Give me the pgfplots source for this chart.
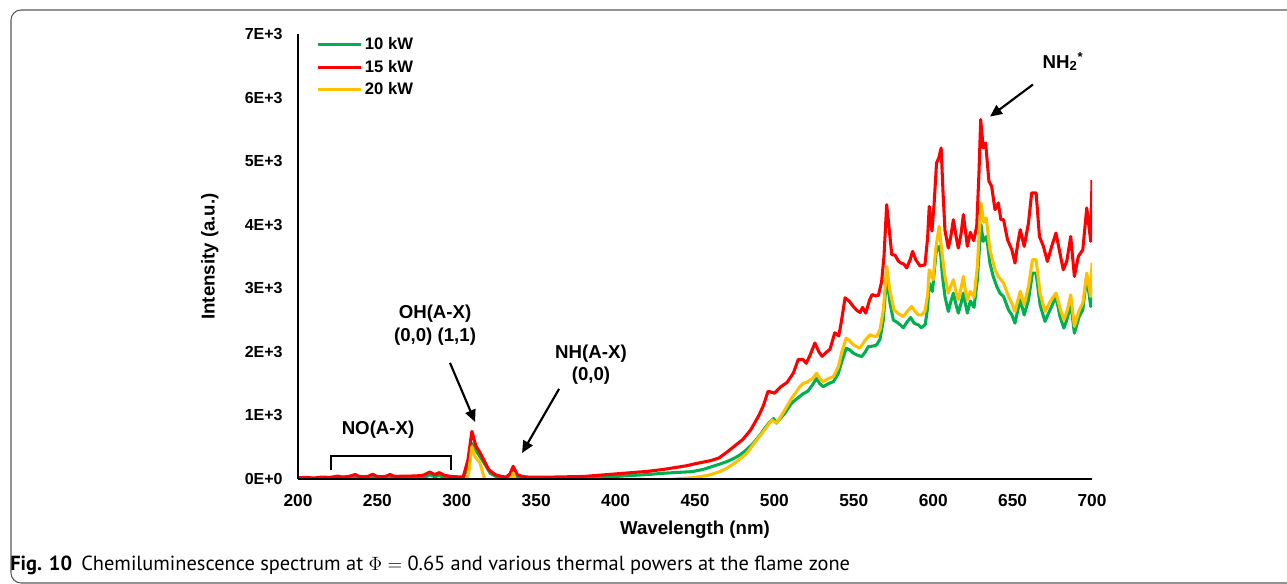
\documentclass[border=0pt]{standalone}
\usepackage[no-math]{fontspec}
\setmainfont{Liberation Sans}
\newfontfamily\capfont{PT Sans}
\usepackage{pgfplots}
\pgfplotsset{compat=1.18}
\usetikzlibrary{arrows.meta}
\definecolor{g10}{HTML}{00B050}
\definecolor{r15}{HTML}{FF0000}
\definecolor{y20}{HTML}{FFC000}

\begin{document}
\begin{tikzpicture}[x=0.75pt,y=0.75pt]
\path[use as bounding box] (0,0) rectangle (1287,584);
% frame of the figure
\draw[black!65, line width=0.8pt] (1300,574) -- (21,574) arc[start angle=90,end angle=180,radius=10]
  -- (11,11) arc[start angle=180,end angle=270,radius=10] -- (1300,1);
\begin{axis}[
  at={(223.5pt,78.75pt)}, anchor=south west,
  width=595.5pt, height=333.75pt, scale only axis,
  xmin=200, xmax=700, ymin=0, ymax=7000,
  axis x line=bottom, axis y line=left,
  axis line style={-, line width=1.6pt, black},
  axis on top,
  major tick length=0pt,
  xtick={200,250,...,700},
  ytick={0,1000,...,7000},
  yticklabels={0E+0,1E+3,2E+3,3E+3,4E+3,5E+3,6E+3,7E+3},
  /pgf/number format/assume math mode=true,
  xticklabel style={font=\fontsize{13}{15}\selectfont\bfseries, yshift=-8pt},
  yticklabel style={font=\fontsize{12}{14}\selectfont\bfseries, xshift=-8pt},
  xlabel={Wavelength (nm)},
  ylabel={Intensity (a.u.)},
  every axis x label/.style={at={(axis description cs:0.5,-0.115)}, anchor=center,
    font=\fontsize{14}{16}\selectfont\bfseries},
  every axis y label/.style={at={(axis description cs:-0.111,0.5)}, anchor=center, rotate=90,
    font=\fontsize{14}{16}\selectfont\bfseries},
  legend style={draw=none, fill=none, at={(axis description cs:0.018,1.005)}, anchor=north west,
    font=\fontsize{12.5}{15}\selectfont\bfseries, row sep=2.5pt},
  legend cell align=left,
  legend image code/.code={\draw[#1, line width=2.3pt] (0pt,0pt) -- (32pt,0pt);},
  every axis plot/.append style={line width=2.3pt, line join=round},
]
% 10 kW
\addplot[g10] coordinates {
(200,10) (210,10) (220,15) (225,20) (236,40) (240,15) (247,45) (250,15) (258,40) (262,15)
(270,20) (280,25) (283,70) (286,35) (289,55) (292,25) (300,15) (304,10) (307,200) (309.5,560)
(312,450) (314.6,350) (317,260) (318.6,194) (321,90) (325,35) (330,20) (333.5,50) (335.5,115)
(338,30) (345,15) (360,15) (380,25) (400,40) (420,70) (430,90) (440,105) (448,115) (455,150)
(460,190) (465,230) (470,273) (475,330) (478.3,378) (482,450) (486.7,562) (491,693) (494,800)
(497.2,902) (499.5,950) (501.4,880) (504,960) (506.6,1034) (510.8,1192) (513.5,1250) (516,1300)
(518,1340) (521,1380) (524,1480) (526.6,1585) (528.5,1500) (530.8,1453) (534,1500) (537.2,1532)
(540.3,1665) (542.5,1850) (545.2,2058) (547.5,2030) (549.7,1980) (552,1950) (555,1926) (557,1990)
(559.2,2084) (562,2090) (564.4,2110) (566.5,2200) (568.6,2504) (570.7,3200) (572.8,2767)
(574.9,2500) (577.5,2460) (579.5,2420) (581.2,2380) (583.5,2470) (585.8,2540) (588,2450)
(590.6,2425) (592.5,2380) (595,2430) (596.5,2700) (597.5,3082) (599.5,2950) (600.8,3300)
(601.8,3554) (603.2,3650) (604.3,3659) (605.8,3200) (607.4,2871) (609.5,2635) (611,2780)
(612.7,2924) (614.3,2750) (615.8,2610) (617.5,2760) (619,2924) (620.3,2750) (621.5,2610)
(623.4,2800) (625.7,2700) (627.8,3134) (629,3600) (630.1,4000) (631.5,3738) (633.6,3816)
(635.7,3397) (637.8,3186) (640,3030) (642,2924) (644.3,2870) (647.4,2661) (649.5,2580)
(651.5,2452) (653.2,2650) (654.8,2819) (657.3,2580) (660,2819) (662.5,3239) (664.8,3239)
(667.3,2740) (670.4,2478) (673.1,2635) (675.2,2750) (677.3,2871) (679.8,2560) (682.3,2373)
(684.5,2530) (686.6,2770) (688.9,2294) (692,2560) (694.2,2661) (696.7,3186) (699.2,2713) (700,3000)
};
\addlegendentry{10 kW}
% 15 kW
\addplot[r15] coordinates {
(200,20) (205,25) (210,15) (215,30) (220,25) (225,45) (228,30) (232,40) (236,70) (239,35)
(244,40) (247,75) (250,35) (255,40) (258,70) (261,40) (266,45) (270,45) (275,50) (279,60)
(283,110) (286,70) (289,100) (292,60) (296,40) (300,35) (304,30) (307,300) (309.5,750) (312,520)
(314.5,420) (317,300) (320,150) (324,70) (328,40) (331,30) (333.5,80) (335.5,200) (338,70)
(341,40) (345,30) (350,30) (360,30) (370,35) (380,40) (390,60) (400,80) (410,100) (420,120)
(430,150) (440,190) (445,210) (450,240) (455,265) (460,290) (465,330) (470,420) (475,520)
(480,620) (485,770) (490,990) (493,1150) (496,1380) (500,1350) (504,1450) (508,1520) (512,1670)
(515,1880) (518,1880) (520,1820) (522.5,1950) (525.5,2140) (528,2000) (530,1930) (533,2000)
(535,2040) (538,2300) (540.5,2250) (542,2450) (544.5,2850) (547,2800) (549.7,2713) (552,2650)
(554,2620) (555.5,2700) (557.5,2610) (560,2820) (561.5,2900) (564,2880) (565.5,2890) (567.5,3100)
(569,3500) (570.7,4315) (572,4000) (573.9,3530) (576,3520) (578,3430) (579.5,3400) (581.5,3380)
(583.3,3320) (585.5,3450) (587,3580) (589,3450) (591.7,3350) (594.8,3370) (596.5,3800)
(597.5,4288) (599.2,3900) (600.5,4300) (602.1,4970) (603.5,5050) (605,5207) (606.2,4500)
(607.4,3913) (609.5,3633) (611,3800) (612.7,4079) (614.5,3800) (615.8,3633) (617.5,3850)
(619,4158) (620.3,3900) (621.5,3660) (623.4,3880) (625.5,3750) (627.4,3974) (628.8,4800)
(629.9,5653) (631.5,5207) (633,5285) (635.1,4683) (636.8,4604) (638.9,4236) (641,4342)
(642.6,4079) (644.3,4079) (646.8,3764) (649.5,3606) (651.5,3397) (653.2,3700) (654.8,3921)
(657.3,3659) (660,4027) (662,4500) (664.8,4500) (666.9,3816) (669.4,3659) (671.9,3422)
(674.6,3659) (677.3,3869) (679.4,3606) (681.9,3291) (684.1,3422) (686.6,3816) (688.9,3186)
(691.4,3501) (694.2,3606) (696.7,4263) (699.2,3738) (700,4700)
};
\addlegendentry{15 kW}
% 20 kW
\addplot[y20] coordinates {
(200,-20) (306,-20) (307.5,100) (309.5,510) (311.5,350) (314.6,252) (317.7,-20) (334,-20)
(335.5,95) (337,-20) (432,-20) (440,5) (448.7,20) (455,45) (459,63) (465,110) (470,168)
(476.3,273) (482.6,404) (488.9,614) (493,745) (498.3,929) (501.4,880) (504,980) (506.6,1087)
(510.8,1270) (513.5,1360) (516,1453) (518,1500) (521,1530) (524,1580) (526.6,1665) (528.5,1580)
(530.8,1532) (534,1580) (537.2,1610) (540.3,1769) (542.5,2000) (545.2,2216) (547.5,2170)
(549.7,2110) (552,2080) (553.9,2058) (557,2180) (560.2,2268) (562,2250) (564.4,2240) (566.5,2350)
(568.6,2661) (570.7,3343) (572.8,2950) (575.3,2661) (578,2600) (581.2,2556) (583.5,2630)
(586.4,2713) (588.5,2640) (590.6,2583) (592.5,2580) (594.8,2635) (596.5,2900) (597.5,3291)
(600,3134) (601.5,3600) (603.7,3974) (605.8,3500) (607.4,3186) (609.5,2924) (611,3030)
(612.7,3134) (614.3,2950) (615.8,2819) (617.5,3000) (619,3186) (620.3,2950) (621.5,2819)
(623.4,2950) (625.7,2860) (627.8,3343) (629,3900) (630.1,4342) (631.8,4040) (633.4,4105)
(635.7,3606) (638.9,3291) (641,3186) (644.3,3080) (647.4,2871) (649.5,2765) (651.5,2635)
(653.2,2800) (654.8,2950) (657.3,2740) (660,3030) (662.5,3449) (664.8,3449) (667.3,2924)
(670.4,2635) (673.1,2765) (675.2,2850) (677.3,2924) (679.8,2690) (682.3,2504) (684.5,2661)
(686.6,2897) (688.9,2400) (692,2661) (694.2,2765) (696.7,3239) (699.2,2871) (700,3400)
};
\addlegendentry{20 kW}
% annotations
\begin{scope}[font=\fontsize{14}{17}\selectfont\bfseries]
\node[align=center] at (axis cs:286.3,2420) {OH(A-X)\\(0,0) (1,1)};
\node[align=center] at (axis cs:384.5,1800) {NH(A-X)\\(0,0)};
\node at (axis cs:250.4,772) {NO(A-X)};
\node at (axis cs:681.7,6567) {NH\textsubscript{2}\textsuperscript{*}};
\end{scope}
\draw[line width=1.6pt, -{Triangle[length=9pt,width=8pt]}] (axis cs:295.7,1827) -- (axis cs:311.5,898);
\draw[line width=1.6pt, -{Triangle[length=9pt,width=8pt]}] (axis cs:364.4,1417) -- (axis cs:341.1,409);
\draw[line width=1.6pt, -{Triangle[length=9pt,width=8pt]}] (axis cs:662.8,6205) -- (axis cs:635.8,5701);
\draw[line width=1.6pt] (axis cs:220.8,142) -- (axis cs:220.8,362) -- (axis cs:296.3,362) -- (axis cs:296.3,142);
\end{axis}
\node[anchor=base west, inner sep=0pt, font=\fontsize{15.3}{18}\selectfont] at (10,13)
  {{\capfont\bfseries Fig. 10}\hspace{0.45em}{\capfont Chemiluminescence spectrum at }$\Phi=\mbox{\capfont 0.65}${\capfont\ and various thermal powers at the flame zone}};
\end{tikzpicture}
\end{document}
